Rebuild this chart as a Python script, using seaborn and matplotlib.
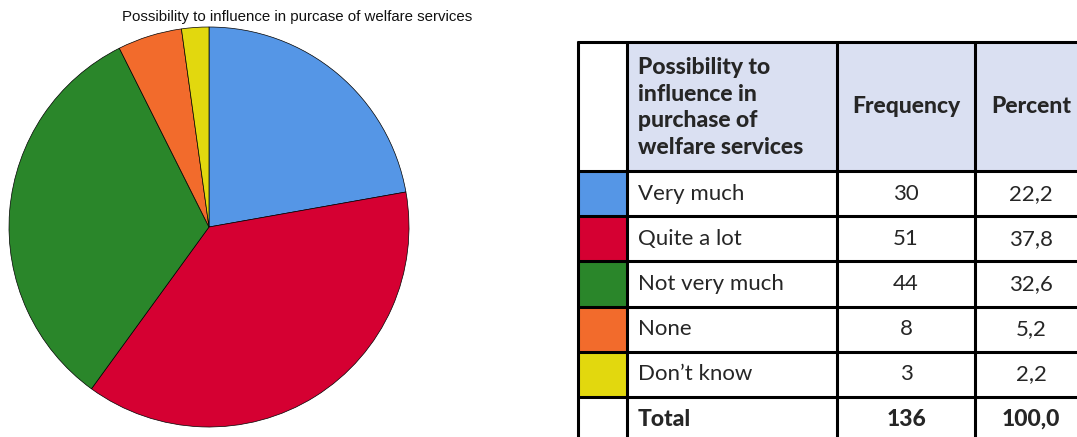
import matplotlib
matplotlib.use("Agg")
import matplotlib.pyplot as plt
import seaborn as sns

sns.set_theme(style="white")

# Survey answers
categories = ["Very much", "Quite a lot", "Not very much", "None", "Don\u2019t know"]
frequency = [30, 51, 44, 8, 3]
percent = [22.2, 37.8, 32.6, 5.2, 2.2]
total_frequency = 136
total_percent = 100.0
title = "Possibility to influence in purcase of welfare services"
header_label = "Possibility to\ninfluence in\npurchase of\nwelfare services"
slice_colors = sns.color_palette(["#5596E6", "#D50032", "#2A862A", "#F26B2C", "#E2D80E"])

W, H = 1077, 437
fig = plt.figure(figsize=(W / 100, H / 100), dpi=100)
fig.patch.set_facecolor("white")


def fx(px):
    return px / W


def fy(py):
    return 1 - py / H


# ---- pie ----
cx, cy, r = 209, 227, 200
ax = fig.add_axes([fx(cx - r), fy(cy + r), 2 * r / W, 2 * r / H])
ax.pie(percent, colors=slice_colors, startangle=90, counterclock=False,
       wedgeprops=dict(edgecolor="black", linewidth=0.5))
ax.set_xlim(-1, 1)
ax.set_ylim(-1, 1)
ax.set_aspect("equal")
ax.axis("off")

fig.text(fx(297), fy(17), title, ha="center", va="center",
         fontsize=10.8, family="Liberation Sans", color="#111111")

# ---- frequency table ----
tab = fig.add_axes([0, 0, 1, 1])
tab.set_xlim(0, W)
tab.set_ylim(H, 0)
tab.axis("off")

x0, x1, x2, x3, xr = 578, 627, 837, 975, 1090
y_top, y_head = 42, 171
row_h = 45.2
n_rows = len(categories) + 1
row_edges = [y_head + row_h * i for i in range(n_rows + 1)]

tab.fill_between([x1, xr], y_top, y_head, color="#DAE0F2", lw=0)
for i, c in enumerate(slice_colors):
    tab.fill_between([x0, x1], row_edges[i], row_edges[i + 1], color=c, lw=0)

lw = 2.2
for y in [y_top] + row_edges[:-1]:
    tab.plot([x0 - 1, xr], [y, y], color="black", lw=lw, solid_capstyle="butt")
for x in [x0, x1, x2, x3]:
    tab.plot([x, x], [y_top - 1, row_edges[-1]], color="black", lw=lw, solid_capstyle="butt")

font = "Lato"
fs = 16
fs_b = 16.5
bold = 900
tab.text(638, (y_top + y_head) / 2 + 1, header_label, ha="left", va="center",
         fontsize=fs_b, family=font, fontweight=bold, linespacing=1.33)
tab.text((x2 + x3) / 2, (y_top + y_head) / 2, "Frequency", ha="center", va="center",
         fontsize=fs_b, family=font, fontweight=bold)
tab.text(1031, (y_top + y_head) / 2, "Percent", ha="center", va="center",
         fontsize=fs_b, family=font, fontweight=bold)

for i, (cat, f, p) in enumerate(zip(categories, frequency, percent)):
    yc = (row_edges[i] + row_edges[i + 1]) / 2
    tab.text(638, yc, cat, ha="left", va="center", fontsize=fs, family=font)
    tab.text((x2 + x3) / 2, yc, f"{f}", ha="center", va="center", fontsize=fs, family=font)
    tab.text(1031, yc, f"{p:.1f}".replace(".", ","), ha="center", va="center",
             fontsize=fs, family=font)

yc = (row_edges[-2] + row_edges[-1]) / 2
tab.text(638, yc, "Total", ha="left", va="center", fontsize=fs_b, family=font, fontweight=bold)
tab.text((x2 + x3) / 2, yc, f"{total_frequency}", ha="center", va="center",
         fontsize=fs_b, family=font, fontweight=bold)
tab.text(1031, yc, f"{total_percent:.1f}".replace(".", ","), ha="center", va="center",
         fontsize=fs_b, family=font, fontweight=bold)

fig.savefig("out.png", dpi=100, facecolor="white")
